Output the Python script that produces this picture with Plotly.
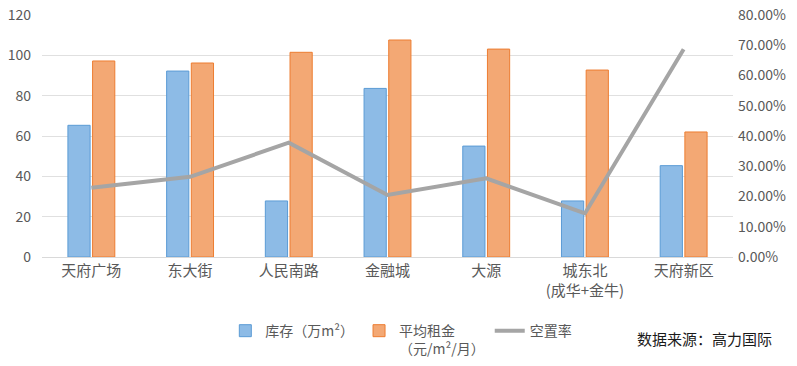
import plotly.graph_objects as go

categories = ["天府广场", "东大街", "人民南路", "金融城", "大源", "城东北<br>(成华+金牛)", "天府新区"]
stock = [65.3, 92.2, 27.8, 83.6, 55.0, 27.8, 45.3]
rent = [97.2, 96.2, 101.5, 107.6, 103.1, 92.7, 62.0]
vacancy = [0.229, 0.265, 0.378, 0.205, 0.26, 0.144, 0.687]
left_ticks = [0, 20, 40, 60, 80, 100, 120]
right_ticks = [0, 0.1, 0.2, 0.3, 0.4, 0.5, 0.6, 0.7, 0.8]

font_family = "Noto Sans CJK SC, Noto Sans, sans-serif"
gray = "#595959"

fig = go.Figure()
fig.add_trace(go.Bar(
    x=categories, y=stock, name="库存（万m²）",
    marker=dict(color="#8DBBE6", line=dict(color="#5B9BD5", width=1)),
))
fig.add_trace(go.Bar(
    x=categories, y=rent, name="平均租金<br>（元/m²/月）",
    marker=dict(color="#F3A874", line=dict(color="#ED7D31", width=1)),
))
fig.add_trace(go.Scatter(
    x=categories, y=vacancy, name="空置率", yaxis="y2", mode="lines",
    line=dict(color="#A5A5A5", width=4),
))

fig.update_layout(
    width=797, height=366,
    margin=dict(l=42, r=64, t=15, b=109, autoexpand=False),
    paper_bgcolor="white", plot_bgcolor="white",
    font=dict(family=font_family, size=14, color=gray),
    barmode="group", bargap=0.5, bargroupgap=0.1,
    showlegend=True,
    legend=dict(orientation="h", x=0.52, xanchor="center", y=-0.24, yanchor="top",
                valign="top", font=dict(size=14, color=gray), itemwidth=30,
                tracegroupgap=0, traceorder="normal"),
    xaxis=dict(showgrid=False, showline=True, linecolor="#D9D9D9", linewidth=1,
               ticks="", tickfont=dict(size=15, color=gray), automargin=False),
    yaxis=dict(range=[0, 120], tickvals=left_ticks, showgrid=True, gridcolor="#E0E0E0",
               zeroline=False, showline=False, ticks="", ticklabelstandoff=10,
               tickfont=dict(size=14, color=gray), automargin=False),
    yaxis2=dict(range=[0, 0.8], tickvals=right_ticks, tickformat=".2%", overlaying="y",
                side="right", showgrid=False, zeroline=False, showline=False, ticks="",
                ticklabelstandoff=4, tickfont=dict(size=14, color=gray), automargin=False),
    annotations=[dict(text="数据来源：高力国际", xref="paper", yref="paper",
                      x=1.06, y=-0.335, xanchor="right", yanchor="middle", showarrow=False,
                      font=dict(size=15, color="#1a1a1a"))],
)

fig.write_html("out.html", config={"displayModeBar": False},
               post_script="document.body.style.margin='0';")
